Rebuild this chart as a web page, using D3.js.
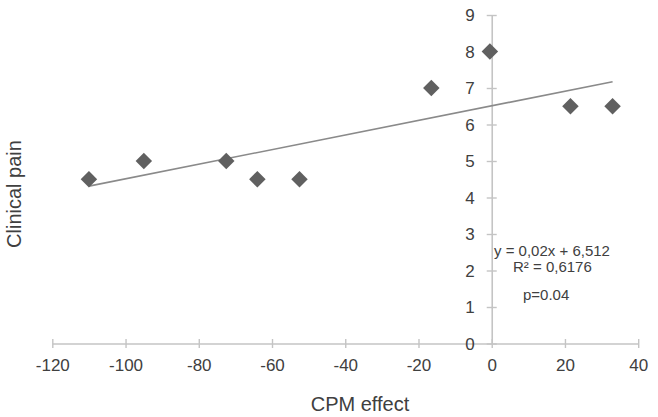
<!DOCTYPE html>
<html>
<head>
<meta charset="utf-8">
<script src="https://cdn.jsdelivr.net/npm/d3@7"></script>
<style>
  html, body { margin: 0; padding: 0; background: #fff; }
  svg { display: block; font-family: "Liberation Sans", Arial, sans-serif; }
</style>
</head>
<body>
<svg id="chart" width="658" height="417"></svg>
<script>
// ---- data ----
const cpmEffect   = [-110, -95, -72.5, -64, -52.5, -16.5, -0.5, 21.5, 33];
const clinicalPain = [4.5, 5, 5, 4.5, 4.5, 7, 8, 6.5, 6.5];
const xTicks = [-120, -100, -80, -60, -40, -20, 0, 20, 40];
const yTicks = [0, 1, 2, 3, 4, 5, 6, 7, 8, 9];
const trendSlope = 0.02;
const trendIntercept = 6.512;
const annotations = ["y = 0,02x + 6,512", "R\u00B2 = 0,6176", "p=0.04"];
const xTitle = "CPM effect";
const yTitle = "Clinical pain";

// ---- layout ----
const svg = d3.select("#chart");
const x = d3.scaleLinear().domain([-120, 40]).range([52.3, 638.2]);
const y = d3.scaleLinear().domain([0, 9]).range([343.5, 15]);
const axisColor = "#c4c4c4";
const textColor = "#404040";
const fmt = d => String(d);

// x axis (at y = 0)
const gx = svg.append("g").attr("transform", `translate(0,${y(0)})`)
  .call(d3.axisBottom(x).tickValues(xTicks).tickSize(0).tickPadding(0).tickFormat(fmt));
gx.select(".domain").attr("stroke", axisColor).attr("stroke-width", 1.6);
gx.selectAll(".tick line").attr("y1", -4.5).attr("y2", 4.5).attr("stroke", axisColor).attr("stroke-width", 1.4);
gx.selectAll(".tick text").attr("y", 22).attr("dy", "0.35em")
  .attr("fill", textColor).attr("font-size", 17).attr("font-family", "Liberation Sans, Arial, sans-serif");

// y axis (at x = 0)
const gy = svg.append("g").attr("transform", `translate(${x(0)},0)`)
  .call(d3.axisLeft(y).tickValues(yTicks).tickSize(0).tickPadding(0).tickFormat(fmt));
gy.select(".domain").attr("stroke", axisColor).attr("stroke-width", 1.6);
gy.selectAll(".tick line").attr("x1", -5).attr("x2", 5).attr("stroke", axisColor).attr("stroke-width", 1.4);
gy.selectAll(".tick text").attr("x", -17).attr("dy", "0.35em")
  .attr("fill", textColor).attr("font-size", 17).attr("font-family", "Liberation Sans, Arial, sans-serif");

// trend line
const xMin = d3.min(cpmEffect), xMax = d3.max(cpmEffect);
svg.append("line")
  .attr("x1", x(xMin)).attr("y1", y(trendSlope * xMin + trendIntercept))
  .attr("x2", x(xMax)).attr("y2", y(trendSlope * xMax + trendIntercept))
  .attr("stroke", "#8a8a8a").attr("stroke-width", 1.6);

// points (diamonds)
const diamond = d3.symbol().type(d3.symbolSquare).size(136);
svg.append("g").selectAll("path")
  .data(cpmEffect.map((v, i) => [v, clinicalPain[i]]))
  .join("path")
  .attr("d", diamond)
  .attr("transform", d => `translate(${x(d[0])},${y(d[1])}) rotate(45)`)
  .attr("fill", "#606060");

// annotation
const annPos = [[494, 256], [513, 271.5], [523, 299.5]];
svg.append("g").selectAll("text")
  .data(annotations)
  .join("text")
  .attr("x", (d, i) => annPos[i][0])
  .attr("y", (d, i) => annPos[i][1])
  .attr("font-size", 15)
  .attr("fill", textColor)
  .text(d => d);

// axis titles
svg.append("text")
  .attr("x", 360).attr("y", 411)
  .attr("text-anchor", "middle")
  .attr("font-size", 20)
  .attr("fill", textColor)
  .text(xTitle);

svg.append("text")
  .attr("transform", "translate(21,194) rotate(-90)")
  .attr("text-anchor", "middle")
  .attr("font-size", 20)
  .attr("fill", textColor)
  .text(yTitle);
</script>
</body>
</html>
